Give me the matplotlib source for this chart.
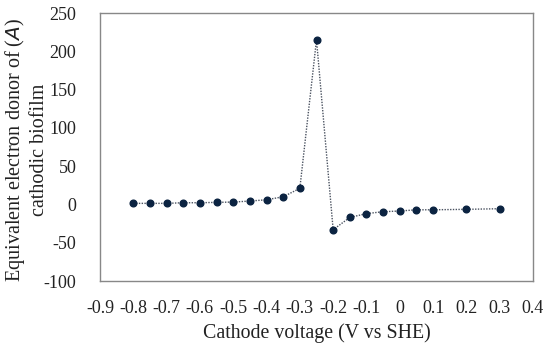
import matplotlib
matplotlib.use("Agg")
import matplotlib.pyplot as plt

# cathode voltage (V vs SHE) and equivalent electron donor
voltage = [-0.8, -0.75, -0.7, -0.65, -0.6, -0.55, -0.5, -0.45, -0.4, -0.35, -0.3,
           -0.25, -0.2, -0.15, -0.1, -0.05, 0.0, 0.05, 0.1, 0.2, 0.3]
donor = [1.4, 1.4, 1.4, 2.2, 2.2, 2.7, 3.1, 4.4, 6.1, 10, 21,
         215, -33, -17, -12, -9.5, -8.6, -7, -7, -6.4, -5.6]

xticks = [-0.9, -0.8, -0.7, -0.6, -0.5, -0.4, -0.3, -0.2, -0.1, 0, 0.1, 0.2, 0.3, 0.4]
xticklabels = ["-0.9", "-0.8", "-0.7", "-0.6", "-0.5", "-0.4", "-0.3", "-0.2", "-0.1",
               "0", "0.1", "0.2", "0.3", "0.4"]
yticks = [-100, -50, 0, 50, 100, 150, 200, 250]

plt.rcParams['font.family'] = ['Liberation Serif', 'DejaVu Serif']
plt.rcParams['axes.unicode_minus'] = False

fig = plt.figure(figsize=(5.5, 3.47), dpi=100)
ax = fig.add_axes([100 / 550, 1 - 281 / 347, 433 / 550, 268 / 347])

ax.plot(voltage, donor, linestyle=(0, (1, 1)), color='#4a5260', linewidth=1.0,
        marker='o', markersize=4.8, markerfacecolor='#0b2341', markeredgecolor='#0b2341')

ax.set_xlim(-0.9, 0.4)
ax.set_ylim(-100, 250)
ax.set_xticks(xticks)
ax.set_xticklabels(xticklabels)
ax.set_yticks(yticks)
ax.tick_params(length=0, labelsize=13, colors='#222222')
ax.tick_params(axis='x', pad=14)
ax.tick_params(axis='y', pad=17)
for s in ax.spines.values():
    s.set_color('#888888')
    s.set_linewidth(1.0)

ax.set_xlabel('Cathode voltage (V vs SHE)', fontsize=14.3, color='#222222', labelpad=4)
fig.text(26 / 550, 1 - 150 / 347,
         'Equivalent electron donor of (' + r'$A$' + ')\ncathodic biofilm',
         rotation=90, ha='center', va='center', multialignment='center',
         fontsize=14.5, color='#222222', linespacing=1.2)

fig.savefig('out.png', dpi=100)
